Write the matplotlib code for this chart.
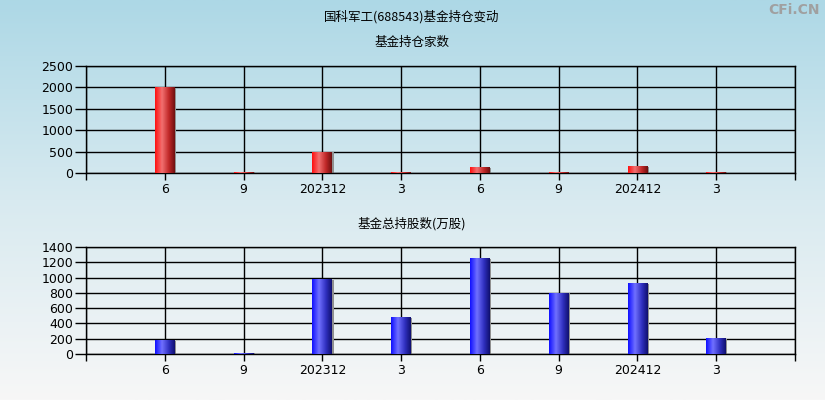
import numpy as np
import matplotlib
matplotlib.use("Agg")
import matplotlib.pyplot as plt
from matplotlib.colors import LinearSegmentedColormap

plt.rcParams['font.family'] = ['Noto Sans CJK SC', 'DejaVu Sans']

# Dados
categorias = ["6", "9", "202312", "3", "6", "9", "202412", "3"]
fundos_qtd = [1995, 15, 490, 10, 118, 10, 142, 12]
acoes_total = [174, 10, 972, 475, 1247, 793, 920, 200]

titulo = "国科军工(688543)基金持仓变动"
titulo_sup = "基金持仓家数"
titulo_inf = "基金总持股数(万股)"

# Gradientes das barras (esquerda clara -> direita escura)
cmap_red = LinearSegmentedColormap.from_list(
    "r", [(0, "#ff1010"), (0.35, "#f27070"), (0.7, "#c02828"), (1, "#701010")])
cmap_blue = LinearSegmentedColormap.from_list(
    "b", [(0, "#1010ff"), (0.35, "#7070ff"), (0.7, "#3030c0"), (1, "#101070")])

fig = plt.figure(figsize=(8.25, 4), dpi=100)

# Fundo com gradiente
bg = fig.add_axes([0, 0, 1, 1], zorder=-10)
grad = np.linspace(0, 1, 256).reshape(-1, 1)
bg_cmap = LinearSegmentedColormap.from_list("bg", ["#add8e6", "#d8eaf0", "#f7f7f7"])
bg.imshow(grad, aspect="auto", cmap=bg_cmap, extent=[0, 1, 0, 1])
bg.axis("off")


def desenha(ax, valores, cmap, ymax, passo):
    x = np.arange(len(categorias))
    ax.set_xlim(-1, len(categorias))
    ax.set_ylim(0, ymax)
    ax.set_facecolor("none")
    bars = ax.bar(x, valores, width=0.25, color="none", zorder=3)
    g = np.linspace(0, 1, 64).reshape(1, -1)
    for b in bars:
        x0, w, h = b.get_x(), b.get_width(), b.get_height()
        # sombra fina a direita
        ax.bar(x0 + w, h, width=0.018, align="edge",
               color="#909090", zorder=2.5, linewidth=0)
        ax.imshow(g, cmap=cmap, aspect="auto",
                  extent=[x0, x0 + w, 0, h], zorder=3)
    ax.set_xticks(np.arange(-1, len(categorias) + 1))
    ax.set_xticklabels([""] + categorias + [""])
    ax.set_yticks(np.arange(0, ymax + 1, passo))
    ax.grid(True, color="black", linewidth=1, zorder=1)
    ax.set_axisbelow(True)
    for s in ax.spines.values():
        s.set_color("black")
        s.set_linewidth(1)
    ax.tick_params(axis="x", length=5, width=1, labelsize=9, pad=2)
    ax.tick_params(axis="y", length=8, width=1, labelsize=9, pad=1)
    for lbl in ax.get_xticklabels() + ax.get_yticklabels():
        lbl.set_fontfamily("DejaVu Sans")


W, H = 825, 400
ax1 = fig.add_axes([86 / W, 1 - 173 / H, (795 - 86) / W, (173 - 66) / H])
desenha(ax1, fundos_qtd, cmap_red, 2500, 500)
ax1.set_xlim(-1, len(categorias))

ax2 = fig.add_axes([86 / W, 1 - 354 / H, (795 - 86) / W, (354 - 247) / H])
desenha(ax2, acoes_total, cmap_blue, 1400, 200)
ax2.set_xlim(-1, len(categorias))

fig.text(412 / W, 1 - 17 / H, titulo, ha="center", va="center", fontsize=9)
fig.text(412 / W, 1 - 42 / H, titulo_sup, ha="center", va="center", fontsize=9)
fig.text(412 / W, 1 - 224 / H, titulo_inf, ha="center", va="center", fontsize=9)
fig.text(820 / W, 1 - 10 / H, "CFi.CN", ha="right", va="center",
         fontsize=10, color="#a0a0a0", fontweight="bold", family="DejaVu Sans")

plt.savefig("out.png", dpi=100)
